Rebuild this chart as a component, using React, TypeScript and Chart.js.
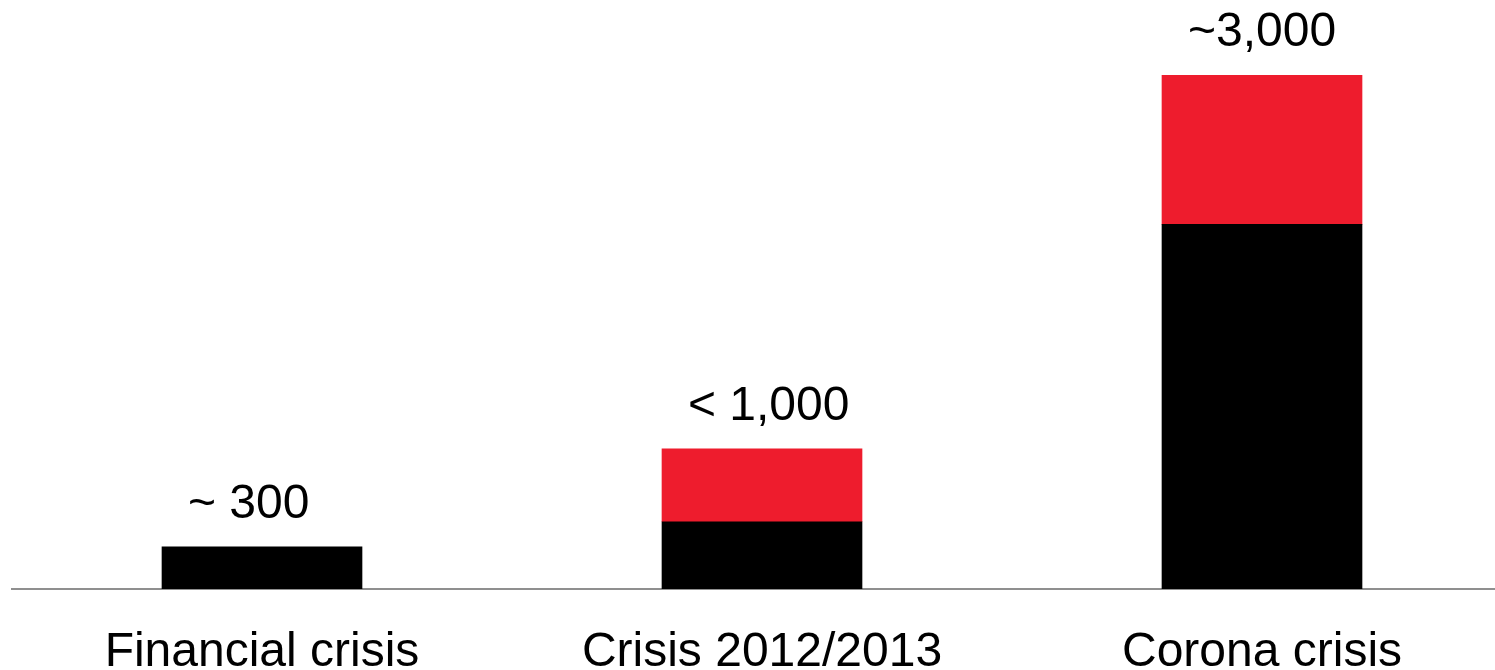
import React, { useEffect, useRef } from "react";
import { Chart, registerables } from "chart.js";

Chart.register(...registerables);

const categories = ["Financial crisis", "Crisis 2012/2013", "Corona crisis"];
const blackValues = [247, 393, 2130];
const redValues: (number | null)[] = [null, 425, 870];
const totalLabels = ["~ 300  ", " < 1,000", "~3,000"];

const FONT = "'Liberation Sans', Arial, sans-serif";

export default function App() {
  const ref = useRef<HTMLCanvasElement | null>(null);

  useEffect(() => {
    if (!ref.current) return;
    const labelPlugin = {
      id: "totalLabels",
      afterDatasetsDraw(chart: any) {
        const ctx = chart.ctx;
        const m0 = chart.getDatasetMeta(0);
        const m1 = chart.getDatasetMeta(1);
        ctx.save();
        ctx.font = `48px ${FONT}`;
        ctx.fillStyle = "#000";
        ctx.textAlign = "center";
        ctx.textBaseline = "alphabetic";
        m0.data.forEach((bar: any, i: number) => {
          let top = bar.y;
          const r = m1.data[i];
          if (r && Number.isFinite(r.y) && redValues[i] != null) top = Math.min(top, r.y);
          ctx.fillText(totalLabels[i], bar.x, top - 29);
        });
        ctx.restore();
      },
    };
    const chart = new Chart(ref.current, {
      type: "bar",
      data: {
        datasets: [
          {
            label: "black",
            data: blackValues.map((v, i) => ({ x: i, y: v })),
            backgroundColor: "#000000",
            barThickness: 200,
          },
          {
            label: "red",
            data: redValues.map((v, i) => ({ x: i, y: v })),
            backgroundColor: "#EE1C2D",
            barThickness: 200,
          },
        ],
      },
      options: {
        responsive: false,
        animation: false,
        layout: { padding: { left: 12, right: 0, top: 0, bottom: 0 } },
        plugins: { legend: { display: false }, tooltip: { enabled: false } },
        scales: {
          x: {
            type: "linear",
            stacked: true,
            offset: false,
            min: -0.5,
            max: 2.466,
            grid: { display: false, drawTicks: false, offset: false },
            border: { display: true, color: "#8f8f8f", width: 2 },
            afterBuildTicks: (scale: any) => {
              scale.ticks = categories.map((_, i) => ({ value: i }));
            },
            afterFit: (scale: any) => {
              scale.height = 81;
            },
            ticks: {
              autoSkip: false,
              maxRotation: 0,
              padding: 35,
              color: "#000",
              font: { size: 48, family: FONT },
              callback: (v: any) => categories[Math.round(Number(v))] ?? "",
            },
          },
          y: {
            stacked: true,
            display: false,
            min: 0,
            max: 3440,
          },
        },
      },
      plugins: [labelPlugin],
    });
    return () => chart.destroy();
  }, []);

  return (
    <div style={{ position: "fixed", left: 0, top: 0, width: 1495, height: 670, background: "#fff" }}>
      <canvas ref={ref} width={1495} height={670} style={{ display: "block" }} />
    </div>
  );
}
